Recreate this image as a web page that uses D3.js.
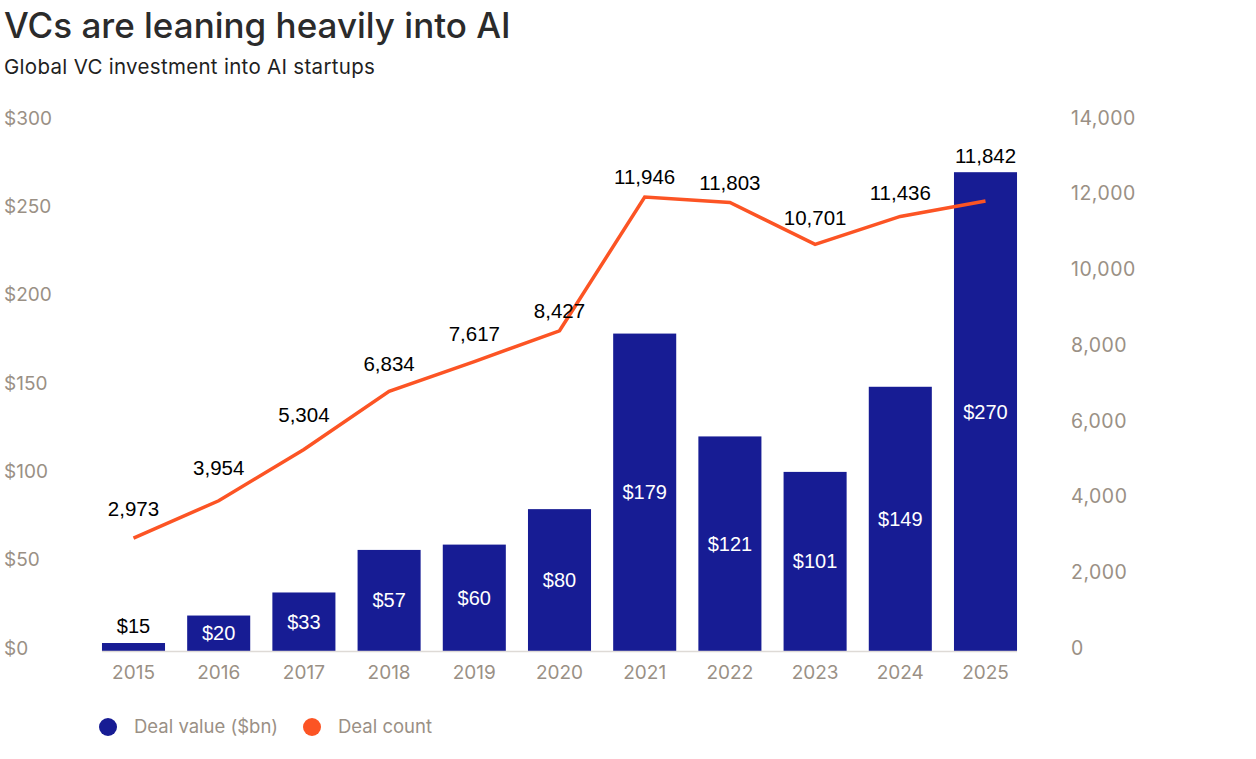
<!DOCTYPE html>
<html>
<head>
<meta charset="utf-8">
<script src="https://cdn.jsdelivr.net/npm/d3@7"></script>
<style>
  body { margin: 0; background: #fff; }
  text { font-family: Inter, "Noto Sans", sans-serif; }
  .num { font-family: "Liberation Sans", Arial, sans-serif; }
</style>
</head>
<body>
<script>
var years = ['2015', '2016', '2017', '2018', '2019', '2020', '2021', '2022', '2023', '2024', '2025'];
// deal value labels ($bn)
var dealValue = [15, 20, 33, 57, 60, 80, 179, 121, 101, 149, 270];
// bar heights as drawn in the source (2015 bar is drawn much shorter than its label)
var barValue = [4.5, 20, 33, 57, 60, 80, 179, 121, 101, 149, 270];
var dealCount = [2973, 3954, 5304, 6834, 7617, 8427, 11946, 11803, 10701, 11436, 11842];
var leftTicks = [0, 50, 100, 150, 200, 250, 300];
var rightTicks = [0, 2000, 4000, 6000, 8000, 10000, 12000, 14000];

(function() {
    var w = 1256,
        h = 759;
    var barColor = '#171c94',
        lineColor = '#fc5424',
        axisColor = '#9a9085';

    var svg = d3.select('body')
        .append('svg')
        .attr('width', w)
        .attr('height', h);

    // titles
    svg.append('text')
        .attr('x', 4).attr('y', 38)
        .attr('font-size', 35).attr('font-weight', 500)
        .attr('fill', '#2b2b2b')
        .text('VCs are leaning heavily into AI');
    svg.append('text')
        .attr('x', 4).attr('y', 74)
        .attr('font-size', 20.5)
        .attr('letter-spacing', 0.3)
        .attr('fill', '#1f1f1f')
        .text('Global VC investment into AI startups');

    var x = d3.scaleBand()
        .domain(years)
        .range([90.9, 1028.1])
        .paddingInner(0.26)
        .paddingOuter(0.13);
    var yL = d3.scaleLinear().domain([0, 300]).range([651, 119]);
    var yR = d3.scaleLinear().domain([0, 14000]).range([651, 119]);
    // tick labels sit a touch higher than the plotted baseline
    var yLlab = yL.copy().range([648, 118]);
    var yRlab = yR.copy().range([648, 118]);

    // axes (labels only)
    var leftAxis = svg.append('g')
        .attr('transform', 'translate(4,0)')
        .call(d3.axisLeft(yLlab).tickValues(leftTicks).tickSize(0).tickFormat(function(d) { return '$' + d; }));
    leftAxis.select('.domain').remove();
    leftAxis.selectAll('text')
        .attr('x', 0).attr('dy', '0.32em')
        .attr('text-anchor', 'start')
        .attr('font-size', 19).attr('fill', axisColor)
        .style('font-family', 'Inter, sans-serif');

    var rightAxis = svg.append('g')
        .attr('transform', 'translate(1071,0)')
        .call(d3.axisRight(yRlab).tickValues(rightTicks).tickSize(0).tickFormat(d3.format(',')));
    rightAxis.select('.domain').remove();
    rightAxis.selectAll('text')
        .attr('x', 0).attr('dy', '0.32em')
        .attr('text-anchor', 'start')
        .attr('font-size', 19.5).attr('letter-spacing', 0.5).attr('fill', axisColor)
        .style('font-family', 'Inter, sans-serif');

    var bottomAxis = svg.append('g')
        .attr('transform', 'translate(0,651)')
        .call(d3.axisBottom(x).tickSize(0));
    bottomAxis.select('.domain').remove();
    bottomAxis.selectAll('text')
        .attr('y', 22).attr('dy', '0.32em')
        .attr('font-size', 19).attr('fill', axisColor)
        .style('font-family', 'Inter, sans-serif');

    // bars
    svg.append('g').selectAll('rect')
        .data(years)
        .enter().append('rect')
        .attr('x', function(d) { return x(d); })
        .attr('width', x.bandwidth())
        .attr('y', function(d, i) { return yL(barValue[i]); })
        .attr('height', function(d, i) { return yL(0) - yL(barValue[i]); })
        .attr('fill', barColor);

    // baseline
    svg.append('line')
        .attr('x1', x(years[0])).attr('x2', x(years[years.length - 1]) + x.bandwidth())
        .attr('y1', 651.5).attr('y2', 651.5)
        .attr('stroke', '#dedad6').attr('stroke-width', 1.5);

    // bar labels
    svg.append('g').selectAll('text')
        .data(years)
        .enter().append('text')
        .attr('class', 'num')
        .attr('x', function(d) { return x(d) + x.bandwidth() / 2; })
        .attr('y', function(d, i) {
            var top = yL(barValue[i]), hgt = yL(0) - top;
            return hgt < 28 ? top - 17 : top + hgt / 2;
        })
        .attr('dy', '0.35em')
        .attr('text-anchor', 'middle')
        .attr('font-size', 20)
        .attr('fill', function(d, i) { return (yL(0) - yL(barValue[i])) < 28 ? '#000' : '#fff'; })
        .text(function(d, i) { return '$' + dealValue[i]; });

    // line
    var cx = function(i) { return x(years[i]) + x.bandwidth() / 2; };
    var line = d3.line()
        .x(function(d, i) { return cx(i); })
        .y(function(d) { return yR(d); });
    svg.append('path')
        .datum(dealCount)
        .attr('d', line)
        .attr('fill', 'none')
        .attr('stroke', lineColor)
        .attr('stroke-width', 3.5);

    // line labels: lift further where the next segment climbs moderately
    svg.append('g').selectAll('text')
        .data(dealCount)
        .enter().append('text')
        .attr('class', 'num')
        .attr('x', function(d, i) { return cx(i); })
        .attr('y', function(d, i) {
            var py = yR(d), by = yL(barValue[i]);
            if (by < py) return by - 16;
            var rise = i < dealCount.length - 1 ? py - yR(dealCount[i + 1]) : 0;
            var off = 20 + (rise > 0 && rise < 80 ? rise * 0.25 : 0);
            return py - off;
        })
        .attr('dy', '0.35em')
        .attr('text-anchor', 'middle')
        .attr('font-size', 20.5)
        .attr('fill', '#000')
        .text(d3.format(','));

    // legend
    var legend = [
        { label: 'Deal value ($bn)', color: barColor, cx: 108 },
        { label: 'Deal count', color: lineColor, cx: 312 }
    ];
    var lg = svg.append('g').selectAll('g')
        .data(legend)
        .enter().append('g');
    lg.append('circle')
        .attr('cx', function(d) { return d.cx; })
        .attr('cy', 727).attr('r', 9)
        .attr('fill', function(d) { return d.color; });
    lg.append('text')
        .attr('x', function(d) { return d.cx + 26; })
        .attr('y', 727).attr('dy', '0.35em')
        .attr('font-size', 18.5).attr('fill', axisColor)
        .text(function(d) { return d.label; });
})();
</script>
</body>
</html>
